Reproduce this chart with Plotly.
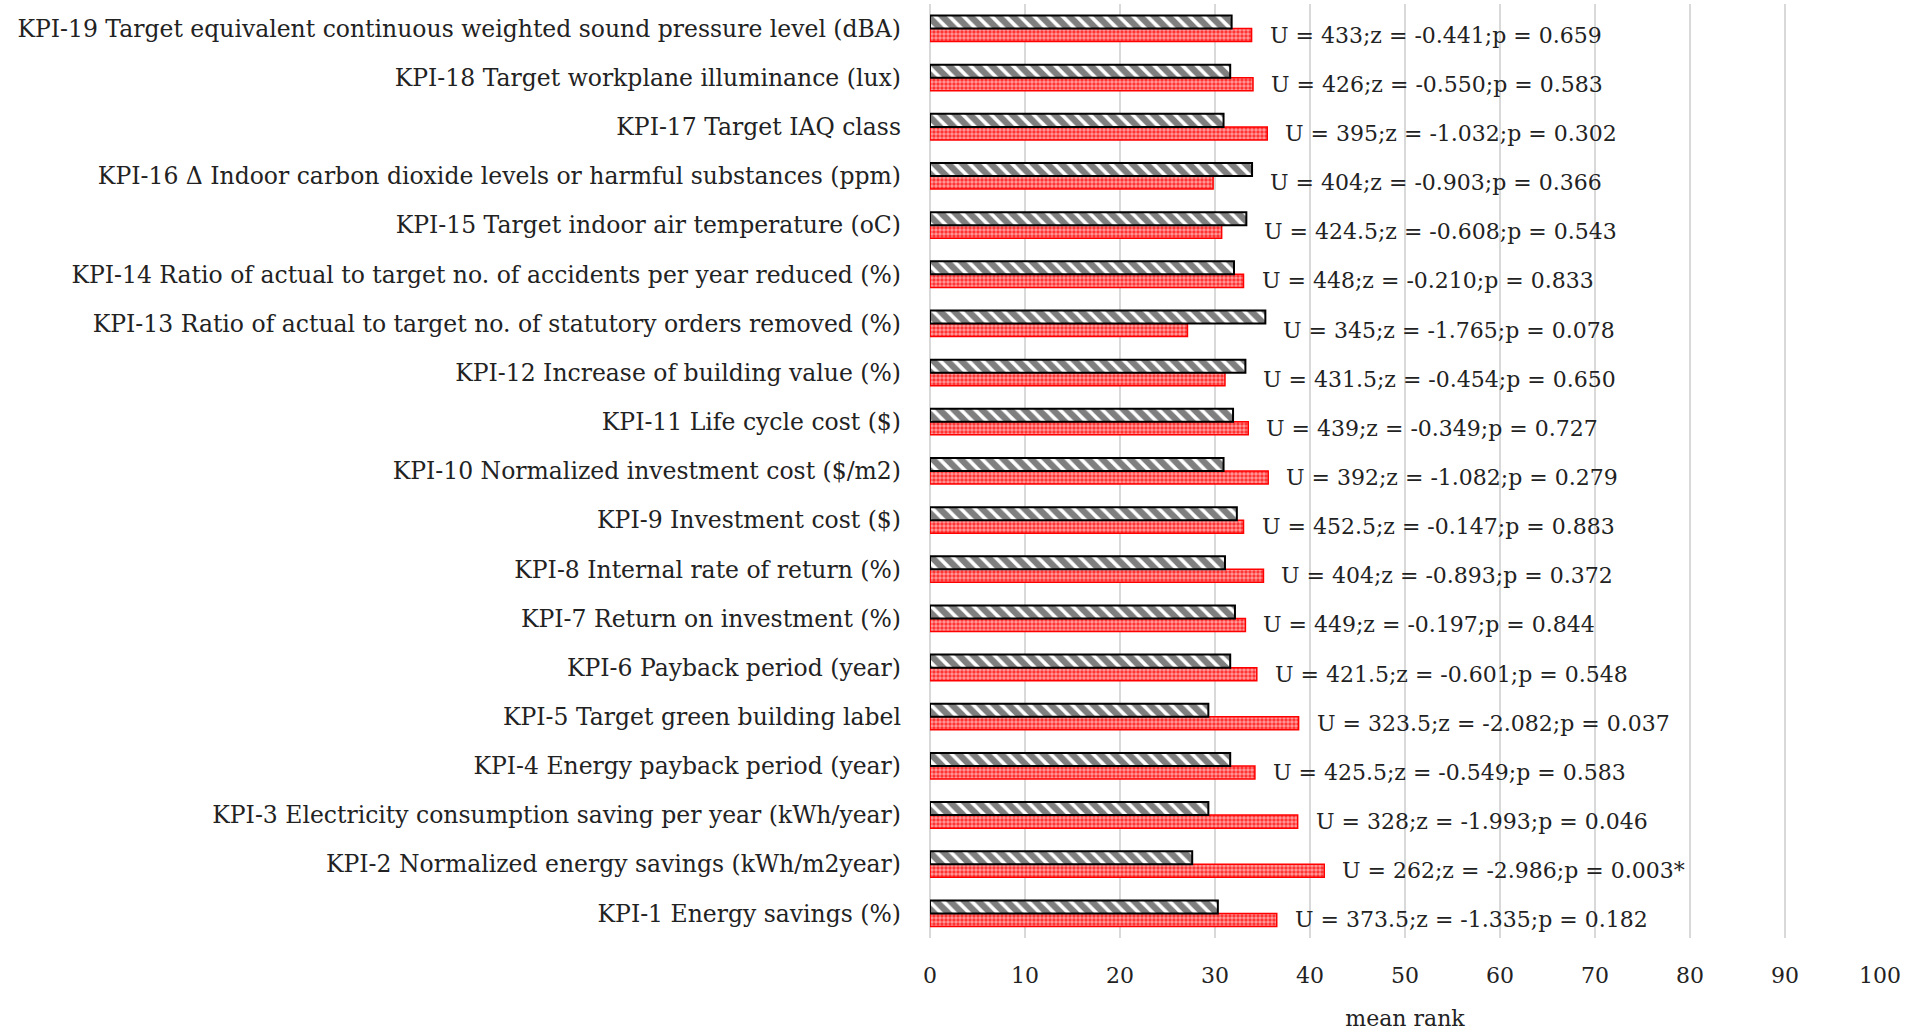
import plotly.graph_objects as go

categories = [
    "KPI-1 Energy savings (%)",
    "KPI-2 Normalized energy savings (kWh/m2year)",
    "KPI-3 Electricity consumption saving per year (kWh/year)",
    "KPI-4 Energy payback period (year)",
    "KPI-5 Target green building label",
    "KPI-6 Payback period (year)",
    "KPI-7 Return on investment (%)",
    "KPI-8 Internal rate of return (%)",
    "KPI-9 Investment cost ($)",
    "KPI-10 Normalized investment cost ($/m2)",
    "KPI-11 Life cycle cost ($)",
    "KPI-12 Increase of building value (%)",
    "KPI-13 Ratio of actual to target no. of statutory orders removed (%)",
    "KPI-14 Ratio of actual to target no. of accidents per year reduced (%)",
    "KPI-15 Target indoor air temperature (oC)",
    "KPI-16 \u0394 Indoor carbon dioxide levels or harmful substances (ppm)",
    "KPI-17 Target IAQ class",
    "KPI-18 Target workplane illuminance (lux)",
    "KPI-19 Target equivalent continuous weighted sound pressure level (dBA)",
]

# black hatched series (upper bar in each row)
black_rank = [30.3, 27.6, 29.3, 31.6, 29.3, 31.6, 32.1, 31.05, 32.3, 30.9,
              31.9, 33.2, 35.3, 32.0, 33.3, 33.9, 30.9, 31.6, 31.75]
# red dotted series (lower bar in each row)
red_rank = [36.5, 41.5, 38.7, 34.2, 38.8, 34.4, 33.2, 35.1, 33.0, 35.6,
            33.5, 31.05, 27.1, 33.0, 30.7, 29.8, 35.5, 34.0, 33.85]

test_labels = [
    "U = 373.5;z = -1.335;p = 0.182",
    "U = 262;z = -2.986;p = 0.003*",
    "U = 328;z = -1.993;p = 0.046",
    "U = 425.5;z = -0.549;p = 0.583",
    "U = 323.5;z = -2.082;p = 0.037",
    "U = 421.5;z = -0.601;p = 0.548",
    "U = 449;z = -0.197;p = 0.844",
    "U = 404;z = -0.893;p = 0.372",
    "U = 452.5;z = -0.147;p = 0.883",
    "U = 392;z = -1.082;p = 0.279",
    "U = 439;z = -0.349;p = 0.727",
    "U = 431.5;z = -0.454;p = 0.650",
    "U = 345;z = -1.765;p = 0.078",
    "U = 448;z = -0.210;p = 0.833",
    "U = 424.5;z = -0.608;p = 0.543",
    "U = 404;z = -0.903;p = 0.366",
    "U = 395;z = -1.032;p = 0.302",
    "U = 426;z = -0.550;p = 0.583",
    "U = 433;z = -0.441;p = 0.659",
]

x_ticks = [0, 10, 20, 30, 40, 50, 60, 70, 80, 90, 100]

FONT = "DejaVu Serif"
FS = 23.5

fig = go.Figure()
fig.add_trace(go.Bar(
    y=categories, x=red_rank, orientation="h", name="red",
    marker=dict(
        color="red",
        line=dict(color="red", width=1.5),
        pattern=dict(shape=".", fgcolor="white", bgcolor="#ff2a2a", size=4, solidity=0.6),
    ),
))
fig.add_trace(go.Bar(
    y=categories, x=black_rank, orientation="h", name="black",
    marker=dict(
        color="black",
        line=dict(color="black", width=2),
        pattern=dict(shape="\\", fgcolor="black", bgcolor="white", size=10, solidity=0.65),
    ),
))

for cat, b, r, t in zip(categories, black_rank, red_rank, test_labels):
    fig.add_annotation(
        x=max(b, r), y=cat, text=t, showarrow=False,
        xanchor="left", yanchor="middle", xshift=16, yshift=-6.5,
        font=dict(family=FONT, size=22, color="#222222"),
    )

fig.update_layout(
    width=1917, height=1034,
    margin=dict(l=930, r=37, t=4, b=96),
    barmode="group", bargap=0.47, bargroupgap=0,
    showlegend=False,
    plot_bgcolor="white", paper_bgcolor="white",
    font=dict(family=FONT, size=FS, color="#222222"),
)
fig.update_xaxes(
    range=[0, 100], tickvals=x_ticks, ticktext=[str(v) for v in x_ticks],
    showgrid=True, gridcolor="#d9d9d9", gridwidth=1.5,
    zeroline=True, zerolinecolor="#d9d9d9", zerolinewidth=1.5,
    showline=False, ticks="", ticklabelstandoff=22,
    title=dict(text="mean rank", font=dict(family=FONT, size=22), standoff=23),
    tickfont=dict(family=FONT, size=22),
)
fig.update_yaxes(
    type="category", categoryorder="array", categoryarray=categories,
    showgrid=False, showline=False, ticks="", ticklabelstandoff=28,
    tickfont=dict(family=FONT, size=FS),
)

fig.write_html("out.html", config={"displayModeBar": False},
               post_script="document.body.style.margin='0';")
